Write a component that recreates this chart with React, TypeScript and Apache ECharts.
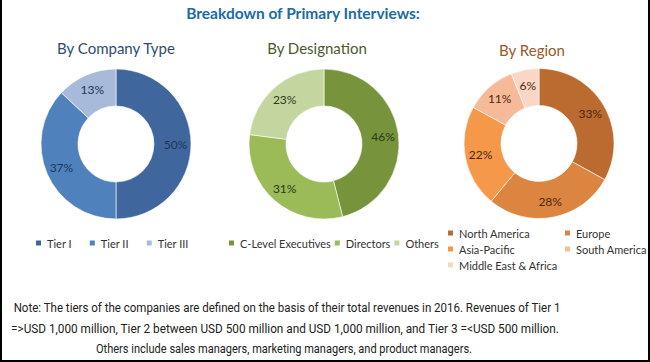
import React, { useEffect, useRef } from "react";
import * as echarts from "echarts";

const companyTypes = ["Tier I", "Tier II", "Tier III"];
const companyValues = [50, 37, 13];
const designations = ["C-Level Executives", "Directors", "Others"];
const designationValues = [46, 31, 23];
const regions = ["North America", "Europe", "Asia-Pacific", "South America", "Middle East & Africa"];
const regionValues = [33, 28, 22, 11, 6];

const blueColors = ["#3f679e", "#4f81bd", "#a8bad9"];
const greenColors = ["#77933c", "#9bbb59", "#c4d6a0"];
const orangeColors = ["#bb6a30", "#dc8541", "#f5984a", "#f6ba98", "#fad6c7"];

const noteLines = [
  "Note: The tiers of the companies are defined on the basis of their total revenues in 2016. Revenues of Tier 1",
  "=>USD 1,000 million, Tier 2 between USD 500 million and USD 1,000 million, and Tier 3 =<USD 500 million.",
  "Others include sales managers, marketing managers, and product managers.",
];

const FONT = "Lato, 'Noto Sans', sans-serif";

function pieSeries(names: string[], values: number[], colors: string[], center: [number, number], labelColor: string) {
  return {
    type: "pie",
    center,
    radius: [38, 75],
    startAngle: 90,
    clockwise: true,
    avoidLabelOverlap: false,
    itemStyle: { borderColor: "#ffffff", borderWidth: 0.6 },
    label: {
      show: true,
      position: "inside",
      formatter: "{c}%",
      color: labelColor,
      fontFamily: FONT,
      fontSize: 12,
    },
    labelLine: { show: false },
    emphasis: { disabled: true },
    data: names.map((n, i) => ({ name: n, value: values[i], itemStyle: { color: colors[i] } })),
  };
}

export default function App() {
  const ref = useRef<HTMLDivElement>(null);
  useEffect(() => {
    document.body.style.margin = "0";
    const chart = echarts.init(ref.current!, undefined, { renderer: "svg" });
    const legendText = { fontFamily: FONT, fontSize: 11, color: "#333333", lineHeight: 14 };
    const baseLegend = {
      icon: "rect",
      itemWidth: 7,
      itemHeight: 7,
      textStyle: legendText,
      selectedMode: false,
      padding: 0,
    };
    chart.setOption({
      animation: false,
      backgroundColor: "#ffffff",
      legend: [
        { ...baseLegend, data: companyTypes, left: 34, top: 236, orient: "horizontal", itemGap: 16 },
        { ...baseLegend, data: designations, left: 227, top: 236, orient: "horizontal", itemGap: 2 },
        { ...baseLegend, data: [regions[0], regions[2], regions[4]], left: 446, top: 226, orient: "vertical", itemGap: 2 },
        { ...baseLegend, data: [regions[1], regions[3]], left: 563, top: 226, orient: "vertical", itemGap: 2 },
      ],
      series: [
        pieSeries(companyTypes, companyValues, blueColors, [116, 144], "#1f3558"),
        pieSeries(designations, designationValues, greenColors, [324, 144], "#2c3a18"),
        pieSeries(regions, regionValues, orangeColors, [539, 143.5], "#4a2810"),
      ],
      graphic: [
        {
          type: "text",
          x: 303,
          y: 13,
          style: {
            text: "Breakdown of Primary Interviews:",
            textAlign: "center",
            textVerticalAlign: "middle",
            fontFamily: FONT,
            fontWeight: "bold",
            fontSize: 15.5,
            fill: "#1c6aa9",
          },
        },
        {
          type: "text",
          x: 116,
          y: 48,
          style: { text: "By Company Type", textAlign: "center", textVerticalAlign: "middle", fontFamily: FONT, fontSize: 15, fill: "#2f4b70" },
        },
        {
          type: "text",
          x: 317,
          y: 48,
          style: { text: "By Designation", textAlign: "center", textVerticalAlign: "middle", fontFamily: FONT, fontSize: 15, fill: "#4b5a2c" },
        },
        {
          type: "text",
          x: 532,
          y: 50,
          style: { text: "By Region", textAlign: "center", textVerticalAlign: "middle", fontFamily: FONT, fontSize: 15, fill: "#9a5926" },
        },
        ...noteLines.map((t, i) => ({
          type: "text",
          x: [287, 285, 284][i],
          y: [308, 329, 349][i],
          scaleX: [0.96, 0.98, 0.92][i],
          style: { text: t, textAlign: "center", textVerticalAlign: "middle", fontFamily: "Roboto, sans-serif", fontSize: 12, fill: "#222222" },
        })),
        { type: "line", shape: { x1: 1, y1: 0, x2: 1, y2: 362 }, style: { stroke: "#000", lineWidth: 2 } },
        { type: "line", shape: { x1: 649, y1: 0, x2: 649, y2: 362 }, style: { stroke: "#000", lineWidth: 2 } },
        { type: "line", shape: { x1: 0, y1: 361, x2: 650, y2: 361 }, style: { stroke: "#000", lineWidth: 2 } },
      ],
    });
    return () => chart.dispose();
  }, []);
  return <div ref={ref} style={{ width: 650, height: 362 }} />;
}
